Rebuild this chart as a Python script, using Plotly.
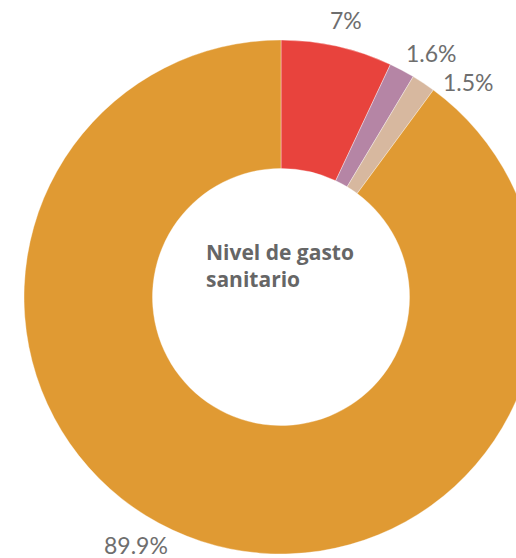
import plotly.graph_objects as go

categories = ["Nivel A", "Nivel B", "Nivel C", "Nivel D"]
values = [7.0, 1.6, 1.5, 89.9]
labels_text = ["7%", "1.6%", "1.5%", "89.9%"]
colors = ["#E8433D", "#B585A5", "#D7B89F", "#E09A33"]
center_title = "Nivel de gasto<br>sanitario"

W, H = 540, 558
cx, cy, r = 281, 297, 257

fig = go.Figure(go.Pie(
    labels=categories,
    values=values,
    hole=0.5,
    sort=False,
    direction="clockwise",
    rotation=0,
    marker=dict(colors=colors, line=dict(color="rgba(255,255,255,0.6)", width=0.6)),
    textinfo="none",
    hoverinfo="label+percent",
    showlegend=False,
    domain=dict(x=[(cx - r) / W, (cx + r) / W], y=[(H - cy - r) / H, (H - cy + r) / H]),
))

label_pos = [(346, 20), (431, 53), (468, 82), (136, 545)]
annotations = []
for t, (px, py) in zip(labels_text, label_pos):
    annotations.append(dict(
        text=t, x=px / W, y=1 - py / H, xref="paper", yref="paper",
        showarrow=False, xanchor="center", yanchor="middle",
        font=dict(family="Lato", size=23, color="#6E6E6E"),
    ))
annotations.append(dict(
    text="<b>" + center_title + "</b>", x=204 / W, y=1 - 266 / H,
    xref="paper", yref="paper", showarrow=False, xanchor="left", yanchor="middle",
    align="left", font=dict(family="Open Sans", size=21, color="#666666"),
))

fig.update_layout(
    width=W, height=H,
    margin=dict(l=0, r=0, t=0, b=0),
    paper_bgcolor="white", plot_bgcolor="white",
    annotations=annotations,
)

fig.write_html(
    "out.html",
    config={"displayModeBar": False},
    post_script="document.body.style.margin='0';document.body.style.overflow='hidden';document.documentElement.style.overflow='hidden';",
)
